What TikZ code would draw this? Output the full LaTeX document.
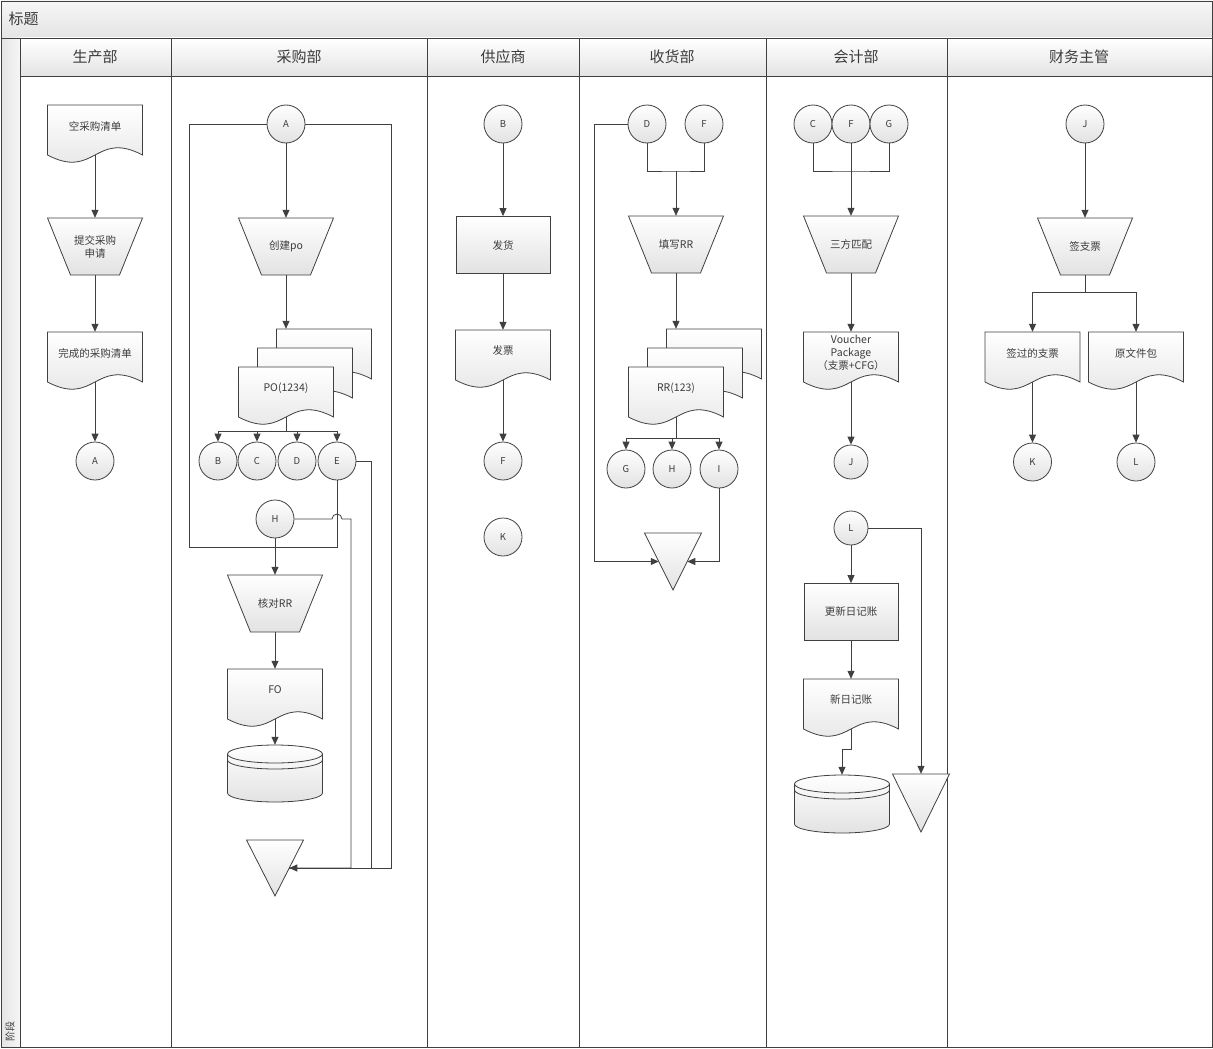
\documentclass[tikz,border=0pt]{standalone}
\usepackage{fontspec}
\setmainfont{Noto Sans CJK SC}
\usepackage{xcolor}
\usepackage{tikz}
\usetikzlibrary{shapes.geometric, arrows.meta}
\usetikzlibrary{calc,positioning}

\definecolor{linegray}{HTML}{404040}
\definecolor{txtgray}{HTML}{3C3C3C}
\definecolor{shadegray}{HTML}{E2E2E2}
\definecolor{bandtop}{HTML}{F6F6F6}
\definecolor{bandbot}{HTML}{E4E4E4}

\tikzset{
    frameline/.style={draw=linegray, line width=0.8pt},
    flowline/.style={draw=linegray, line width=0.8pt},
    shapefill/.style={draw=linegray, line width=0.8pt, top color=white, bottom color=shadegray},
    conn/.style={circle, shapefill, minimum size=38pt, inner sep=0pt, font=\fontsize{9.5}{11}\selectfont},
    connsmall/.style={conn, minimum size=34pt},
    procbox/.style={rectangle, shapefill, minimum width=94pt, minimum height=57pt, inner sep=0pt},
    opbox/.style={rectangle, minimum width=95pt, minimum height=57pt, inner sep=0pt, align=center},
    tribox/.style={rectangle, minimum width=57pt, inner sep=0pt},
    docbox/.style={rectangle, minimum width=95pt, minimum height=50pt, inner sep=0pt},
    doctext/.style={align=center},
    lanetitle/.style={font=\fontsize{15}{18}\selectfont},
}

% manual operation: name, centre x, centre y, text
\newcommand{\manualop}[4]{%
    \path[shapefill] (#2-47.5,#3-28.5) -- (#2+47.5,#3-28.5) -- (#2+24.5,#3+28.5)
        -- (#2-24.5,#3+28.5) -- cycle;
    \node[opbox] (#1) at (#2,#3) {#4};}
% merge triangle: name, centre x, top y, height
\newcommand{\mergetri}[4]{%
    \path[shapefill] (#2-28.5,#3) -- (#2+28.5,#3) -- (#2,#3+#4) -- cycle;
    \node[tribox, minimum height=#4] (#1) at (#2,#3+#4/2) {};
    \coordinate (#1-l) at (#2-14.25,#3+#4/2);
    \coordinate (#1-r) at (#2+14.25,#3+#4/2);}
% document outline: centre x, top y
\newcommand{\docoutline}[2]{%
    \path[shapefill] (#1+47.5,#2+50) .. controls (#1,#2+25) and (#1,#2+75) .. (#1-47.5,#2+50)
        -- (#1-47.5,#2) -- (#1+47.5,#2) -- cycle;}
% document: name, centre x, top y, text
\newcommand{\docnode}[4]{%
    \docoutline{#2}{#3}
    \node[docbox] (#1) at (#2,#3+25) {};
    \node[doctext] (#1-txt) at (#2,#3+21) {#4};}
% stack of three documents
\newcommand{\multidoc}[4]{%
    \docoutline{#2+38}{#3-38}
    \node[docbox] (#1-back) at (#2+38,#3-13) {};
    \docoutline{#2+19}{#3-19}
    \docnode{#1}{#2}{#3}{#4}}
% database: name, centre x, top y, height
\newcommand{\dbnode}[4]{%
    \path[shapefill] (#2-47.5,#3+9) -- (#2-47.5,#3+#4-9)
        arc[start angle=180, end angle=0, x radius=47.5, y radius=9]
        -- (#2+47.5,#3+9) arc[start angle=0, end angle=-180, x radius=47.5, y radius=9] -- cycle;
    \draw[flowline] (#2-47.5,#3+9) arc[start angle=180, end angle=0, x radius=47.5, y radius=9];
    \draw[flowline] (#2-47.5,#3+15) arc[start angle=180, end angle=0, x radius=47.5, y radius=9];
    \node[docbox, minimum height=#4] (#1) at (#2,#3+#4/2) {};}

\begin{document}
\begin{tikzpicture}[x=1pt, y=-1pt, >={Triangle[width=7pt,length=8pt]},
    every node/.style={font=\fontsize{10.5}{13}\selectfont, text=txtgray}]

    \useasboundingbox (0,0) rectangle (1213,1049);

    % Frame
    \fill[top color=bandtop, bottom color=bandbot] (1,1) rectangle (1212,38);
    \fill[top color=white, bottom color=bandbot] (20,38) rectangle (1212,76);
    \fill[left color=bandbot, right color=bandtop] (1,38) rectangle (20,1047);
    \draw[frameline] (1,1) rectangle (1212,1047);
    \draw[frameline] (1,38) -- (1212,38);
    \draw[frameline] (20,38) -- (20,1047);
    \draw[frameline] (20,76) -- (1212,76);
    \foreach \x in {171,427,579,766,947} {
        \draw[frameline] (\x,38) -- (\x,1047);
    }
    \node[lanetitle, anchor=west] (title) at (5,19) {标题};
    \node[rotate=90, anchor=west, font=\fontsize{10}{12}\selectfont] (phase) at (10,1045) {阶段};
    \foreach \x/\t/\n in {95/生产部/prod, 299/采购部/purch, 503/供应商/supp,
                          672/收货部/recv, 856/会计部/acct, 1079/财务主管/fin} {
        \node[lanetitle] (\n) at (\x,57) {\t};
    }

    % 生产部
    \docnode{emptylist}{95}{105}{空采购清单}
    \manualop{submit}{95}{246.5}{提交采购\\申请}
    \docnode{donelist}{95}{332}{完成的采购清单}
    \node[conn] (a1) at (95,461) {A};
    \draw[->, flowline] (emptylist) -- (submit);
    \draw[->, flowline] (submit) -- (donelist);
    \draw[->, flowline] (donelist) -- (a1);

    % 采购部
    \node[conn] (a2) at (286,124) {A};
    \manualop{createpo}{286}{246.5}{创建po}
    \multidoc{po}{286}{367}{PO(1234)}
    \coordinate (po-split) at (286,431);
    \node[conn] (b2) at (218,461) {B};
    \node[conn] (c2) at (257,461) {C};
    \node[conn] (d2) at (297,461) {D};
    \node[conn] (e2) at (337,461) {E};
    \node[conn] (h2) at (275,519) {H};
    \manualop{checkrr}{275}{603.5}{核对RR}
    \docnode{fo}{275}{669}{FO}
    \dbnode{podb}{275}{745}{57}
    \mergetri{potri}{275}{840}{56}
    \coordinate (po-right) at (391,0);
    \coordinate (e-right) at (371,0);

    \draw[->, flowline] (a2) -- (createpo);
    \draw[->, flowline] (createpo) -- (createpo |- po-back.north);
    \draw[flowline] (po) -- (po-split);
    \foreach \n in {b2,c2,d2,e2} {
        \draw[->, flowline] (po-split) -| (\n);
    }
    \draw[flowline] (a2) -| (189,547) -| (e2);
    \draw[->, flowline] (h2) -- (checkrr);
    \draw[->, flowline] (checkrr) -- (fo);
    \draw[->, flowline] (fo) -- (podb);
    \draw[flowline] (h2.east) -- (332,519) arc[start angle=180, end angle=360, radius=5]
        -- (351,519) |- (potri-r);
    \draw[flowline] (e2) -| (e-right |- potri-r) -- (potri-r);
    \draw[->, flowline] (a2) -| (po-right |- potri-r) -- (potri-r);

    % 供应商
    \node[conn] (b3) at (503,124) {B};
    \node[procbox] (ship) at (503,245) {发货};
    \docnode{invoice}{503}{330}{发票}
    \node[conn] (f3) at (503,461) {F};
    \node[conn] (k3) at (503,537) {K};
    \draw[->, flowline] (b3) -- (ship);
    \draw[->, flowline] (ship) -- (invoice);
    \draw[->, flowline] (invoice) -- (f3);

    % 收货部
    \node[conn] (d4) at (647,124) {D};
    \node[conn] (f4) at (704,124) {F};
    \coordinate (rr-join) at (676,171);
    \manualop{fillrr}{676}{244.5}{填写RR}
    \multidoc{rr}{676}{367}{RR(123)}
    \coordinate (rr-split) at (676,438);
    \node[conn] (g4) at (626,469) {G};
    \node[conn] (h4) at (672,469) {H};
    \node[conn] (i4) at (719,469) {I};
    \mergetri{rrtri}{673}{533}{57}
    \coordinate (rr-left) at (594,0);

    \draw[flowline] (d4) |- (rr-join) -| (f4);
    \draw[->, flowline] (rr-join) -- (fillrr);
    \draw[->, flowline] (fillrr) -- (fillrr |- rr-back.north);
    \draw[flowline] (rr) -- (rr-split);
    \foreach \n in {g4,h4,i4} {
        \draw[->, flowline] (rr-split) -| (\n);
    }
    \draw[->, flowline] (d4) -| (rr-left |- rrtri-l) -- (rrtri-l);
    \draw[->, flowline] (i4) |- (rrtri-r);

    % 会计部
    \node[conn] (c5) at (813,124) {C};
    \node[conn] (f5) at (851,124) {F};
    \node[conn] (g5) at (889,124) {G};
    \coordinate (cg-join) at (851,171);
    \manualop{match}{851}{244.5}{三方匹配}
    \docnode{voucher}{851}{332}{Voucher\\Package\\（支票+CFG）}
    \node[connsmall] (j5) at (851,462) {J};
    \node[connsmall] (l5) at (851,528) {L};
    \node[procbox] (upd) at (851,612) {更新日记账};
    \docnode{journal}{851}{679}{新日记账}
    \dbnode{jdb}{842}{775}{58}
    \mergetri{jtri}{921}{774}{58}

    \draw[flowline] (c5) |- (cg-join) -| (g5);
    \draw[->, flowline] (f5) -- (match);
    \draw[->, flowline] (match) -- (voucher);
    \draw[->, flowline] (voucher) -- (j5);
    \draw[->, flowline] (l5) -- (upd);
    \draw[->, flowline] (upd) -- (journal);
    \draw[->, flowline] (journal) -- (851,749) -| (jdb);
    \draw[->, flowline] (l5) -| (jtri);

    % 财务主管
    \node[conn] (j6) at (1085,124) {J};
    \manualop{sign}{1085}{246.5}{签支票}
    \coordinate (sign-split) at (1085,292);
    \docnode{signed}{1032.5}{332}{签过的支票}
    \docnode{orig}{1136}{332}{原文件包}
    \node[conn] (k6) at (1032.5,462) {K};
    \node[conn] (l6) at (1136,462) {L};
    \draw[->, flowline] (j6) -- (sign);
    \draw[flowline] (sign) -- (sign-split);
    \foreach \n in {signed,orig} {
        \draw[->, flowline] (sign-split) -| (\n);
    }
    \draw[->, flowline] (signed) -- (k6);
    \draw[->, flowline] (orig) -- (l6);
\end{tikzpicture}
\end{document}
